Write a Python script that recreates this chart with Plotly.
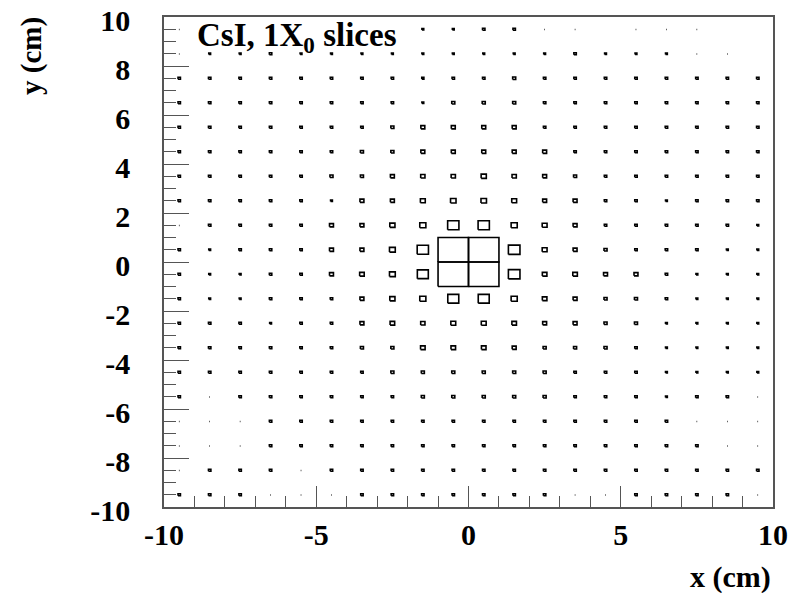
import plotly.graph_objects as go

# bin centres (cm)
x_centers = [-9.5, -8.5, -7.5, -6.5, -5.5, -4.5, -3.5, -2.5, -1.5, -0.5,
             0.5, 1.5, 2.5, 3.5, 4.5, 5.5, 6.5, 7.5, 8.5, 9.5]
y_centers = [9.5, 8.5, 7.5, 6.5, 5.5, 4.5, 3.5, 2.5, 1.5, 0.5,
             -0.5, -1.5, -2.5, -3.5, -4.5, -5.5, -6.5, -7.5, -8.5, -9.5]

# cell contents (relative energy deposit), one list per row, x from -9.5 to 9.5
y9_5 = [0.02, 0, 0, 0, 0, 0, 0, 0, 0.06, 0.06, 0.08, 0.08, 0.02, 0.02, 0, 0.02, 0.02, 0.02, 0, 0]
y8_5 = [0.02, 0.06, 0.06, 0.08, 0.06, 0.06, 0.06, 0.06, 0.06, 0.06, 0.06, 0.06, 0.06, 0.08, 0.06, 0.06, 0.06, 0.02, 0.02, 0]
y7_5 = [0.08, 0.08, 0.08, 0.08, 0.08, 0.08, 0.08, 0.08, 0.07, 0.08, 0.08, 0.10, 0.08, 0.08, 0.08, 0.08, 0.08, 0.08, 0.08, 0.08]
y6_5 = [0.08, 0.08, 0.08, 0.08, 0.08, 0.08, 0.08, 0.08, 0.06, 0.10, 0.10, 0.10, 0.08, 0.08, 0.08, 0.08, 0.08, 0.08, 0.08, 0.08]
y5_5 = [0.08, 0.08, 0.08, 0.08, 0.08, 0.08, 0.08, 0.10, 0.13, 0.13, 0.13, 0.13, 0.08, 0.08, 0.08, 0.08, 0.08, 0.08, 0.08, 0.08]
y4_5 = [0.08, 0.08, 0.08, 0.08, 0.08, 0.08, 0.10, 0.10, 0.13, 0.13, 0.13, 0.13, 0.13, 0.08, 0.08, 0.08, 0.08, 0.08, 0.08, 0.08]
y3_5 = [0.08, 0.08, 0.08, 0.08, 0.08, 0.10, 0.10, 0.13, 0.14, 0.14, 0.17, 0.14, 0.13, 0.10, 0.08, 0.08, 0.08, 0.08, 0.08, 0.08]
y2_5 = [0.08, 0.08, 0.08, 0.08, 0.08, 0.06, 0.13, 0.13, 0.16, 0.18, 0.18, 0.16, 0.13, 0.13, 0.08, 0.08, 0.06, 0.08, 0.08, 0.08]
y1_5 = [0.02, 0.08, 0.08, 0.08, 0.08, 0.13, 0.13, 0.17, 0.20, 0.37, 0.37, 0.20, 0.16, 0.13, 0.08, 0.08, 0.08, 0.08, 0.08, 0.06]
y0_5 = [0.08, 0.06, 0.08, 0.08, 0.08, 0.13, 0.13, 0.19, 0.37, 1.00, 1.00, 0.38, 0.16, 0.13, 0.10, 0.08, 0.08, 0.08, 0.06, 0.06]
ym0_5 = [0.08, 0.06, 0.06, 0.08, 0.08, 0.13, 0.15, 0.19, 0.36, 1.00, 1.00, 0.38, 0.15, 0.15, 0.13, 0.13, 0.08, 0.06, 0.06, 0.06]
ym1_5 = [0.08, 0.06, 0.06, 0.08, 0.08, 0.08, 0.13, 0.17, 0.20, 0.36, 0.36, 0.20, 0.15, 0.13, 0.10, 0.10, 0.08, 0.06, 0.06, 0.06]
ym2_5 = [0.08, 0.08, 0.08, 0.06, 0.08, 0.08, 0.13, 0.15, 0.14, 0.16, 0.16, 0.15, 0.13, 0.13, 0.10, 0.10, 0.06, 0.06, 0.06, 0.06]
ym3_5 = [0.08, 0.08, 0.08, 0.08, 0.08, 0.08, 0.10, 0.10, 0.15, 0.15, 0.15, 0.13, 0.10, 0.10, 0.10, 0.08, 0.06, 0.06, 0.06, 0.06]
ym4_5 = [0.08, 0.08, 0.08, 0.08, 0.08, 0.08, 0.08, 0.10, 0.10, 0.10, 0.10, 0.10, 0.10, 0.08, 0.08, 0.08, 0.06, 0.06, 0.06, 0.06]
ym5_5 = [0.08, 0.02, 0.08, 0.08, 0.08, 0.08, 0.08, 0.08, 0.10, 0.10, 0.10, 0.10, 0.10, 0.08, 0.08, 0.08, 0.06, 0.08, 0.08, 0.02]
ym6_5 = [0.02, 0.02, 0.02, 0.08, 0.08, 0.08, 0.08, 0.08, 0.08, 0.08, 0.08, 0.08, 0.08, 0.08, 0.08, 0.08, 0.08, 0.02, 0.02, 0.02]
ym7_5 = [0.02, 0.02, 0.02, 0.08, 0.08, 0.08, 0.08, 0.08, 0.08, 0.08, 0.08, 0.08, 0.08, 0.08, 0.08, 0.08, 0.08, 0.08, 0.02, 0.02]
ym8_5 = [0.02, 0.08, 0.08, 0.08, 0.02, 0.08, 0.08, 0.08, 0.08, 0.08, 0.08, 0.08, 0.08, 0.08, 0.08, 0.08, 0.08, 0.08, 0.08, 0.08]
ym9_5 = [0.08, 0.08, 0.08, 0.02, 0.02, 0.02, 0.08, 0.08, 0.08, 0.08, 0.08, 0.08, 0.08, 0.02, 0.02, 0.08, 0.08, 0.08, 0.08, 0.02]

rows = [y9_5, y8_5, y7_5, y6_5, y5_5, y4_5, y3_5, y2_5, y1_5, y0_5,
        ym0_5, ym1_5, ym2_5, ym3_5, ym4_5, ym5_5, ym6_5, ym7_5, ym8_5, ym9_5]

x_ticks = [-10, -5, 0, 5, 10]
x_tick_labels = ["-10", "-5", "0", "5", "10"]
y_ticks = [-10, -8, -6, -4, -2, 0, 2, 4, 6, 8, 10]
y_tick_labels = ["-10", "-8", "-6", "-4", "-2", "0", "2", "4", "6", "8", "10"]

BIN = 1.0
vmax = max(max(r) for r in rows)

# ROOT "box" option: box side proportional to cell content
bx, by = [], []
for yc, row in zip(y_centers, rows):
    for xc, v in zip(x_centers, row):
        if v <= 0:
            continue
        h = 0.5 * BIN * v / vmax
        bx += [xc - h, xc + h, xc + h, xc - h, xc - h, None]
        by += [yc - h, yc - h, yc + h, yc + h, yc - h, None]

fig = go.Figure()
fig.add_trace(go.Scatter(x=bx, y=by, mode="lines",
                         line=dict(color="black", width=1.6),
                         hoverinfo="skip", showlegend=False))

FONT = "Liberation Serif, Times New Roman, serif"
axcol = "#555555"
tickfont = dict(family=FONT, size=30, color="black", weight="bold")

fig.update_xaxes(range=[-10, 10], tickvals=x_ticks, ticktext=x_tick_labels,
                 ticks="inside",
                 ticklen=21, tickwidth=1.3, tickcolor=axcol,
                 minor=dict(dtick=1, ticks="inside", ticklen=11,
                            tickwidth=1.3, tickcolor=axcol),
                 showline=True, linecolor=axcol, linewidth=1.6, mirror=True,
                 showgrid=False, zeroline=False, tickfont=tickfont,
                 ticklabelstandoff=0, automargin=False,
                 ticklabeloverflow="allow")
fig.update_yaxes(range=[-10, 10], tickvals=y_ticks, ticktext=y_tick_labels,
                 ticks="inside",
                 ticklen=25, tickwidth=1.3, tickcolor=axcol,
                 minor=dict(dtick=0.5, ticks="inside", ticklen=12.5,
                            tickwidth=1.3, tickcolor=axcol),
                 showline=True, linecolor=axcol, linewidth=1.6, mirror=True,
                 showgrid=False, zeroline=False, tickfont=tickfont,
                 ticklabelstandoff=26, ticklabelshift=3, automargin=False,
                 ticklabeloverflow="allow")

# the page body has an 8 px margin, so the figure is drawn 8 px in from the
# window corner; layout is expressed in figure pixels (window px - 8)
OFF = 8
W, H = 800 - OFF, 593 - OFF
L, T = 164 - OFF, 17 - OFF
R = W - (773 - OFF)
B = H - (507 - OFF)
pw, ph = W - L - R, H - T - B

def px(x):
    return (x - OFF - L) / pw

def py(y):
    return (H - B - (y - OFF)) / ph

fig.update_layout(
    width=W, height=H,
    margin=dict(l=L, r=R, t=T, b=B, autoexpand=False),
    plot_bgcolor="white", paper_bgcolor="white",
    annotations=[
        dict(text="CsI, 1X<sub>0</sub> slices", x=px(195), y=py(15),
             xref="paper", yref="paper", xanchor="left", yanchor="top",
             showarrow=False,
             font=dict(family=FONT, size=33, color="black", weight="bold")),
        dict(text="y (cm)", x=px(32), y=py(15), textangle=-90,
             xref="paper", yref="paper", xanchor="center", yanchor="top",
             showarrow=False,
             font=dict(family=FONT, size=29, color="black", weight="bold")),
        dict(text="x (cm)", x=px(773), y=py(577),
             xref="paper", yref="paper", xanchor="right", yanchor="middle",
             showarrow=False,
             font=dict(family=FONT, size=30, color="black", weight="bold")),
    ],
)

fig.write_html("out.html")
